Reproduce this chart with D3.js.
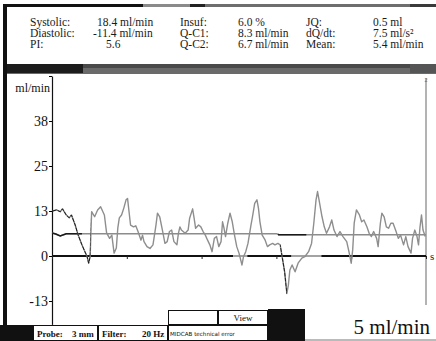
<!DOCTYPE html>
<html>
<head>
<meta charset="utf-8">
<script src="https://cdn.jsdelivr.net/npm/d3@7"></script>
<style>
  body { margin: 0; background: #fff; }
  svg { display: block; font-family: 'Liberation Serif', 'DejaVu Serif', serif; }
</style>
</head>
<body>
<div id="chart"></div>
<script>
// Header readouts (label / value pairs, three columns)
var headerLabels = [
  ['Systolic:', 'Diastolic:', 'PI:'],
  ['Insuf:', 'Q-C1:', 'Q-C2:'],
  ['JQ:', 'dQ/dt:', 'Mean:']
]
var headerValues = [
  ['18.4 ml/min', '-11.4 ml/min', '5.6'],
  ['6.0 %', '8.3 ml/min', '6.7 ml/min'],
  ['0.5 ml', '7.5 ml/s²', '5.4 ml/min']
]

// y ticks (ml/min) and their printed labels
var yTicks = [50, 37.5, 25, 12.5, 0, -12.5]
var yTickLabels = ['', '38', '25', '13', '0', '-13']

// time ticks along the zero line (s)
var xTicks = [0, 1, 2, 3, 4, 5]

// flow trace
var flowTime = [0.01, 0.06, 0.11, 0.14, 0.19, 0.23, 0.26, 0.31, 0.35, 0.40, 0.44, 0.47, 0.49, 0.51,
  0.53, 0.57, 0.61, 0.65, 0.70, 0.73, 0.77, 0.80, 0.83, 0.86, 0.88, 0.90, 0.93, 0.96, 0.99, 1.01,
  1.03, 1.05, 1.09, 1.12, 1.15, 1.19, 1.21, 1.23, 1.27, 1.31, 1.35, 1.39, 1.41, 1.44, 1.48, 1.51,
  1.54, 1.57, 1.60, 1.63, 1.67, 1.69, 1.71, 1.73, 1.78, 1.82, 1.84, 1.88, 1.90, 1.92, 1.96, 1.99,
  2.02, 2.05, 2.08, 2.11, 2.14, 2.17, 2.20, 2.23, 2.26, 2.28, 2.30, 2.32, 2.35, 2.38, 2.41, 2.44,
  2.47, 2.50, 2.54, 2.56, 2.59, 2.62, 2.66, 2.68, 2.71, 2.74, 2.76, 2.78, 2.81, 2.85, 2.88, 2.91,
  2.95, 2.98, 3.02, 3.05, 3.08, 3.11, 3.14, 3.16, 3.18, 3.21, 3.25, 3.29, 3.34, 3.38, 3.43, 3.47,
  3.50, 3.53, 3.55, 3.57, 3.61, 3.64, 3.67, 3.71, 3.74, 3.77, 3.81, 3.85, 3.89, 3.94, 3.97, 4.00,
  4.02, 4.04, 4.07, 4.11, 4.14, 4.17, 4.21, 4.24, 4.27, 4.30, 4.34, 4.36, 4.39, 4.41, 4.44, 4.47,
  4.50, 4.53, 4.56, 4.60, 4.63, 4.66, 4.70, 4.73, 4.76, 4.80, 4.82, 4.85, 4.88, 4.90, 4.92, 4.94,
  4.96, 4.99]
var flowValue = [12.5, 12.8, 12.3, 13.1, 11.4, 10.6, 11.4, 8.6, 5.8, 3.1, 1.2, -0.2, -2.0, -0.2,
  12.3, 10.9, 12.8, 13.7, 11.4, 6.4, 4.9, 5.8, 0.8, 2.2, 7.8, 10.6, 11.4, 13.3, 15.6, 16.0,
  12.3, 8.6, 8.1, 8.4, 6.8, 4.4, 5.8, 4.0, 2.6, 2.1, 3.1, 8.6, 11.9, 10.9, 6.8, 3.5,
  4.0, 6.8, 7.2, 4.0, 3.1, 6.3, 8.1, 7.2, 6.3, 7.2, 10.5, 13.1, 10.5, 7.7, 8.6, 8.1,
  6.8, 5.8, 4.4, 3.1, 1.2, 4.9, 5.4, 2.6, 4.0, 9.5, 7.7, 5.4, 9.1, 11.9, 9.5, 5.8,
  2.6, 0.8, -2.5, -0.2, 1.2, 3.5, 8.6, 10.9, 14.6, 15.6, 13.3, 9.5, 5.8, 4.4, 2.6, 3.1,
  3.5, 3.1, 3.5, 3.1, -0.6, -4.4, -10.4, -8.1, -3.9, -2.5, -4.4, -2.0, -0.6, -0.2, 1.2, 3.5,
  9.1, 15.6, 17.9, 15.6, 10.9, 8.1, 6.3, 8.1, 10.0, 7.2, 5.4, 6.8, 5.4, 4.0, 1.2, -2.0,
  1.7, 9.1, 12.8, 11.4, 9.5, 10.0, 8.1, 6.3, 5.4, 6.8, 4.9, 2.6, 9.1, 11.9, 10.9, 8.1,
  7.7, 9.1, 9.1, 6.8, 4.9, 5.8, 3.1, 5.4, 2.6, 0.8, 4.9, 7.2, 5.4, 3.1, 8.1, 11.4,
  7.2, 5.4]

// running mean line
var meanTime = [0, 0.05, 0.11, 0.19, 3.0, 3.03, 5]
var meanValue = [6.4, 6.1, 5.6, 6.2, 6.2, 5.9, 5.9]

// stretches of the trace printed dark (s)
var darkFlow = [[0, 0.515], [3.05, 3.14]]
var darkMean = [[0, 0.4], [3.02, 3.4]]
var greyZero = [[2.42, 2.61], [3.2, 3.6]]

var width = 436
var height = 341

var svg = d3.select('#chart')
  .append('svg')
  .attr('width', width)
  .attr('height', height)

// Create your scales
var xPositionScale = d3.scaleLinear().domain([0, 5]).range([52, 426])
var yPositionScale = d3.scaleLinear().domain([-19, 50]).range([324.4, 76])

// ---- frame pieces
svg.append('rect').attr('x', 3).attr('y', 4).attr('width', 140).attr('height', 3).attr('fill', '#111')
svg.append('rect').attr('x', 143).attr('y', 4).attr('width', 47).attr('height', 3).attr('fill', '#8a8a8a')
svg.append('rect').attr('x', 190).attr('y', 4).attr('width', 15).attr('height', 3).attr('fill', '#222')
svg.append('rect').attr('x', 205).attr('y', 4).attr('width', 205).attr('height', 3).attr('fill', '#6e6e6e')
svg.append('rect').attr('x', 410).attr('y', 4).attr('width', 26).attr('height', 3).attr('fill', '#3a3a3a')

svg.append('rect').attr('x', 3).attr('y', 64).attr('width', 433).attr('height', 10).attr('fill', '#6a6a6a')
svg.append('rect').attr('x', 3).attr('y', 64).attr('width', 433).attr('height', 4).attr('fill', '#4a4a4a')
svg.append('rect').attr('x', 3).attr('y', 64).attr('width', 80).attr('height', 9).attr('fill', '#1c1c1c')
svg.append('rect').attr('x', 410).attr('y', 64).attr('width', 26).attr('height', 9).attr('fill', '#555')

svg.append('rect').attr('x', 3).attr('y', 4).attr('width', 4).attr('height', 322).attr('fill', '#111')

// ---- header text
var colX = [[30, 97], [180, 238], [306, 373]]
var rowY = [26, 37, 48]
var valueDx = [[0, -4, 9], [0, 0, 0], [0, 0, 0]]

headerLabels.forEach(function(col, i) {
  col.forEach(function(label, j) {
    svg.append('text')
      .text(label)
      .attr('x', colX[i][0])
      .attr('y', rowY[j])
      .attr('font-size', '11.5px')
      .attr('fill', '#1a1a1a')
    svg.append('text')
      .text(headerValues[i][j])
      .attr('x', colX[i][1] + valueDx[i][j])
      .attr('y', rowY[j])
      .attr('font-size', '11.5px')
      .attr('fill', '#1a1a1a')
  })
})

// ---- axes
var yAxis = d3.axisLeft(yPositionScale)
  .tickValues(yTicks)
  .tickFormat(function(d, i) { return yTickLabels[i] })
  .tickSize(3)
  .tickSizeOuter(0)

var yG = svg.append('g')
  .attr('class', 'axis y-axis')
  .attr('transform', 'translate(52,0)')
  .call(yAxis)
yG.select('.domain').attr('stroke', '#111').attr('stroke-width', 1.2)
yG.selectAll('text')
  .attr('font-family', "'Liberation Serif', serif")
  .attr('font-size', '14px')
  .attr('fill', '#111')
  .attr('x', -4)

svg.append('text')
  .text('ml/min')
  .attr('x', 50)
  .attr('y', 92)
  .attr('text-anchor', 'end')
  .attr('font-size', '12px')
  .attr('fill', '#111')

// right edge marker
svg.append('line')
  .attr('x1', xPositionScale(5)).attr('x2', xPositionScale(5))
  .attr('y1', 78).attr('y2', 305)
  .attr('stroke', '#9a9a9a')
  .attr('stroke-width', 1.5)
svg.append('text')
  .text('2')
  .attr('x', xPositionScale(5))
  .attr('y', 82)
  .attr('text-anchor', 'middle')
  .attr('font-size', '6px')
  .attr('fill', '#666')

// zero line with time ticks
var x0 = yPositionScale(0)
svg.append('line')
  .attr('x1', xPositionScale(0)).attr('x2', xPositionScale(5))
  .attr('y1', x0).attr('y2', x0)
  .attr('stroke', '#111')
  .attr('stroke-width', 1.8)
greyZero.forEach(function(r) {
  svg.append('line')
    .attr('x1', xPositionScale(r[0])).attr('x2', xPositionScale(r[1]))
    .attr('y1', x0).attr('y2', x0)
    .attr('stroke', '#fff')
    .attr('stroke-width', 2)
  svg.append('line')
    .attr('x1', xPositionScale(r[0])).attr('x2', xPositionScale(r[1]))
    .attr('y1', x0).attr('y2', x0)
    .attr('stroke', '#666')
    .attr('stroke-width', 1.2)
})

var xAxis = d3.axisBottom(xPositionScale)
  .tickValues(xTicks)
  .tickSize(3)
  .tickFormat('')
var xG = svg.append('g')
  .attr('class', 'axis x-axis')
  .attr('transform', 'translate(0,' + x0 + ')')
  .call(xAxis)
xG.select('.domain').remove()
xG.selectAll('line').attr('stroke', '#222')

svg.append('text')
  .text('s')
  .attr('x', 430)
  .attr('y', x0 + 4)
  .attr('font-size', '11px')
  .attr('fill', '#222')

// ---- lines
var flow = flowTime.map(function(t, i) { return { t: t, v: flowValue[i] } })
var mean = meanTime.map(function(t, i) { return { t: t, v: meanValue[i] } })

var line = d3.line()
  .x(function(d) { return xPositionScale(d.t) })
  .y(function(d) { return yPositionScale(d.v) })

var defs = svg.append('defs')
function clipFor(id, ranges) {
  var cp = defs.append('clipPath').attr('id', id)
  ranges.forEach(function(r) {
    cp.append('rect')
      .attr('x', xPositionScale(r[0]))
      .attr('y', 70)
      .attr('width', xPositionScale(r[1]) - xPositionScale(r[0]))
      .attr('height', 260)
  })
}
clipFor('dark-flow', darkFlow)
clipFor('dark-mean', darkMean)

svg.append('path')
  .datum(mean)
  .attr('d', line)
  .attr('fill', 'none')
  .attr('stroke', '#8c8c8c')
  .attr('stroke-width', 1.5)
svg.append('path')
  .datum(mean)
  .attr('d', line)
  .attr('fill', 'none')
  .attr('stroke', '#1a1a1a')
  .attr('stroke-width', 1.5)
  .attr('clip-path', 'url(#dark-mean)')

svg.append('path')
  .datum(flow)
  .attr('d', line)
  .attr('fill', 'none')
  .attr('stroke', '#8e8e8e')
  .attr('stroke-width', 1.4)
  .attr('stroke-linejoin', 'round')
svg.append('path')
  .datum(flow)
  .attr('d', line)
  .attr('fill', 'none')
  .attr('stroke', '#1a1a1a')
  .attr('stroke-width', 1)
  .attr('stroke-dasharray', '4,1')
  .attr('clip-path', 'url(#dark-flow)')

// ---- bottom status bar
svg.append('rect').attr('x', 0).attr('y', 325).attr('width', 34).attr('height', 16).attr('fill', '#111')

function box(x, y, w, h) {
  svg.append('rect')
    .attr('x', x + 0.5).attr('y', y + 0.5)
    .attr('width', w - 1).attr('height', h - 1)
    .attr('fill', '#fff')
    .attr('stroke', '#111')
    .attr('stroke-width', 1)
}
box(33, 325, 65, 16)
box(98, 325, 70, 16)
box(168, 310, 50, 15)
box(218, 310, 50, 15)
box(168, 325, 100, 16)
svg.append('rect').attr('x', 268).attr('y', 309).attr('width', 37).attr('height', 32).attr('fill', '#111')
svg.append('rect').attr('x', 305).attr('y', 309).attr('width', 131).attr('height', 31).attr('fill', '#fff')
svg.append('line').attr('x1', 305).attr('x2', 436).attr('y1', 340).attr('y2', 340).attr('stroke', '#777')

svg.append('text').text('Probe:').attr('x', 37).attr('y', 337)
  .attr('font-size', '9px').attr('font-weight', 'bold').attr('fill', '#111')
svg.append('text').text('3 mm').attr('x', 72).attr('y', 337)
  .attr('font-size', '9px').attr('font-weight', 'bold').attr('fill', '#111')
svg.append('text').text('Filter:').attr('x', 102).attr('y', 337)
  .attr('font-size', '9px').attr('font-weight', 'bold').attr('fill', '#111')
svg.append('text').text('20 Hz').attr('x', 142).attr('y', 337)
  .attr('font-size', '9px').attr('font-weight', 'bold').attr('fill', '#111')
svg.append('text').text('View').attr('x', 243).attr('y', 321)
  .attr('text-anchor', 'middle')
  .attr('font-size', '9px').attr('fill', '#111')
svg.append('text').text('MIDCAB technical error').attr('x', 170).attr('y', 336)
  .attr('font-family', "'DejaVu Sans', sans-serif")
  .attr('font-size', '5.6px').attr('fill', '#111')
svg.append('text').text('5 ml/min').attr('x', 430).attr('y', 334)
  .attr('text-anchor', 'end')
  .attr('font-size', '21px').attr('fill', '#111')
</script>
</body>
</html>
